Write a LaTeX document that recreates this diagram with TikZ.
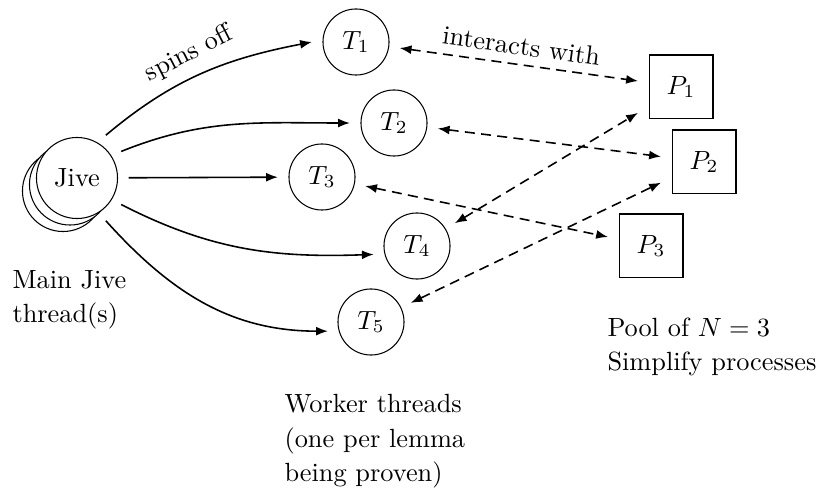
\documentclass[tikz,border=0pt]{standalone}
\usetikzlibrary{arrows.meta}
\begin{document}
\begin{tikzpicture}[x=0.38pt,y=-0.38pt,
  every node/.style={font=\fontsize{10}{13}\selectfont},
  thr/.style={circle,draw,minimum size=25.1pt,inner sep=0pt,outer sep=4.2pt},
  jv/.style={circle,draw,fill=white,minimum size=30.8pt,inner sep=0pt,outer sep=4.2pt},
  proc/.style={rectangle,draw,minimum size=24.3pt,inner sep=0pt,outer sep=4.2pt},
  tip/.tip={Latex[length=4.5pt,width=3.4pt]},
  spin/.style={-tip,semithick},
  inter/.style={tip-tip,semithick,dash pattern=on 3.8pt off 2.4pt},
  lbl/.style={align=left,anchor=north west,inner sep=0pt}]
\useasboundingbox (0,0) rectangle (820,493);
% Jive stack
\node[jv] (jiveB) at (63,191) {};
\node[jv] (jiveA) at (70,184.5) {};
\node[jv] (jive) at (77,178) {Jive};
% worker threads
\node[thr] (T1) at (356,42) {$T_1$};
\node[thr] (T2) at (394,123) {$T_2$};
\node[thr] (T3) at (322,177) {$T_3$};
\node[thr] (T4) at (417,246) {$T_4$};
\node[thr] (T5) at (371,322) {$T_5$};
% processes
\node[proc] (P1) at (681,87) {$P_1$};
\node[proc] (P2) at (704,162) {$P_2$};
\node[proc] (P3) at (651,246) {$P_3$};
% spins off
\draw[spin] (jive.56) to[out=40,in=191] (T1.west);
\node[rotate=27] (spinlbl) at (189,54) {spins off};
\draw[spin] (jive.31) to[out=22,in=180] (T2.west);
\draw[spin] (jive) -- (T3);
\draw[spin] (jive.-31) to[out=-27,in=182] (T4.191);
\draw[spin] (jive.-56) to[out=-48,in=180] (T5.192);
% interactions
\draw[inter] (T1) -- node[above,sloped]{interacts with} (P1);
\draw[inter] (T2) -- (P2);
\draw[inter] (T3) -- (P3);
\draw[inter] (T4) -- (P1);
\draw[inter] (T5) -- (P2);
% labels
\node[lbl] (mainlbl) at (12,270) {Main Jive\\thread(s)};
\node[lbl] (worklbl) at (284,394) {Worker threads\\(one per lemma\\being proven)};
\node[lbl] (poollbl) at (607,317) {Pool of $N=3$\\Simplify processes};
\end{tikzpicture}
\end{document}
